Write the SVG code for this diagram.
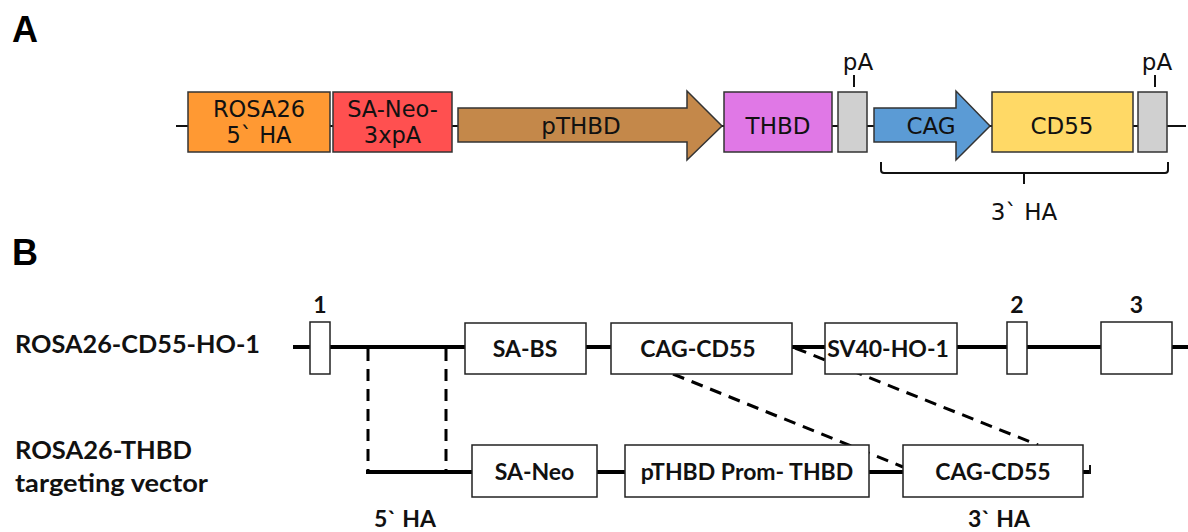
<svg xmlns="http://www.w3.org/2000/svg" width="1188" height="532" viewBox="0 0 1188 532">
<style>
.pl{font-family:"Liberation Sans",Arial,sans-serif;font-weight:bold;font-size:36px;fill:#000}
.ta{font-family:"DejaVu Sans",Verdana,sans-serif;font-size:23px;fill:#111;text-anchor:middle}
.t2{font-size:22.5px}
.tb{font-family:Lato,"Open Sans",sans-serif;font-weight:bold;font-size:23px;fill:#111}
.tr{font-size:25px}
.mid{text-anchor:middle}
.ba{stroke:#333;stroke-width:1.5}
.bb{fill:#fff;stroke:#222;stroke-width:1.5}
.la{stroke:#111;stroke-width:2;fill:none}
.lb{stroke:#000;stroke-width:4;fill:none}
.dash{stroke:#000;stroke-width:3;stroke-dasharray:12 8;fill:none}
</style>
<text class="pl" x="12" y="42">A</text>
<text class="pl" x="12" y="265">B</text>

<g id="connectors">
<line class="la" x1="176" y1="126" x2="1186" y2="126"/>
<line class="la" x1="854" y1="75" x2="854" y2="87"/>
<line class="la" x1="1155" y1="75" x2="1155" y2="87"/>
<path class="la" d="M881,162 L881,170 Q881,173 884,173 L1165,173 Q1168,173 1168,170 L1168,162 M1024,173 L1024,184"/>
<line class="lb" x1="293" y1="347" x2="1188" y2="347"/>
<line class="lb" x1="366" y1="472" x2="1090" y2="472"/>
<line class="la" x1="1090" y1="465" x2="1090" y2="474"/>
<line class="dash" x1="368" y1="349" x2="368" y2="470"/>
<line class="dash" x1="446" y1="349" x2="446" y2="470"/>
<line class="dash" x1="673" y1="374" x2="903" y2="467"/>
<line class="dash" x1="795" y1="348" x2="1038" y2="445"/>
</g>

<g id="nA1"><rect class="ba" x="188" y="92" width="142" height="60" fill="#FF9933"/><text class="ta t2" x="259" y="117">ROSA26</text><text class="ta t2" x="259" y="143">5` HA</text></g>
<g id="nA2"><rect class="ba" x="333" y="92" width="119" height="60" fill="#FF5050"/><text class="ta t2" x="392.5" y="117">SA-Neo-</text><text class="ta t2" x="392.5" y="143">3xpA</text></g>
<g id="nA3"><path class="ba" fill="#C4884A" d="M458,108 L687,108 L687,91 L722,126 L687,160 L687,142 L458,142 Z"/><text class="ta" x="581" y="134" font-size="24">pTHBD</text></g>
<g id="nA4"><rect class="ba" x="724" y="92" width="108" height="60" fill="#E078E6"/><text class="ta" x="778" y="134">THBD</text></g>
<g id="nA5"><rect class="ba" x="838" y="92" width="29" height="60" fill="#D0D0D0"/><text class="ta" x="858" y="70">pA</text></g>
<g id="nA6"><path class="ba" fill="#5B9BD5" d="M874,108 L956,108 L956,91 L990,126 L956,160 L956,142 L874,142 Z"/><text class="ta" x="931" y="134">CAG</text></g>
<g id="nA7"><rect class="ba" x="992" y="92" width="141" height="60" fill="#FFD966"/><text class="ta" x="1062" y="134">CD55</text></g>
<g id="nA8"><rect class="ba" x="1138" y="92" width="29" height="60" fill="#D0D0D0"/><text class="ta" x="1157" y="70">pA</text></g>
<g id="nA9"><text class="ta" x="1024" y="220">3` HA</text></g>

<g id="lblB1"><text class="tb tr" x="15" y="353" textLength="245" lengthAdjust="spacingAndGlyphs">ROSA26-CD55-HO-1</text></g>
<g id="lblB2"><text class="tb tr" x="15" y="459" textLength="177" lengthAdjust="spacingAndGlyphs">ROSA26-THBD</text><text class="tb tr" x="15" y="492" textLength="193" lengthAdjust="spacingAndGlyphs">targeting vector</text></g>

<g id="ex1"><rect class="bb" x="310" y="322" width="20" height="52"/><text class="tb mid" x="320" y="313">1</text></g>
<g id="nB1"><rect class="bb" x="465" y="323" width="121" height="51"/><text class="tb mid" x="525" y="357">SA-BS</text></g>
<g id="nB2"><rect class="bb" x="611" y="323" width="181" height="51"/><text class="tb mid" x="698" y="357">CAG-CD55</text></g>
<g id="nB3"><rect class="bb" x="825" y="323" width="132" height="51"/><text class="tb mid" x="888" y="357">SV40-HO-1</text></g>
<g id="ex2"><rect class="bb" x="1007" y="322" width="20" height="52"/><text class="tb mid" x="1017" y="313">2</text></g>
<g id="ex3"><rect class="bb" x="1101" y="322" width="71" height="52"/><text class="tb mid" x="1136.5" y="313">3</text></g>

<g id="nB4"><rect class="bb" x="472" y="445" width="125" height="52"/><text class="tb mid" x="534.5" y="480">SA-Neo</text></g>
<g id="nB5"><rect class="bb" x="625" y="445" width="244" height="52"/><text class="tb mid" x="747" y="480">pTHBD Prom- THBD</text></g>
<g id="nB6"><rect class="bb" x="903" y="445" width="180" height="52"/><text class="tb mid" x="993" y="480">CAG-CD55</text></g>
<g id="ha5"><text class="tb mid" x="405" y="527">5` HA</text></g>
<g id="ha3"><text class="tb mid" x="999" y="527">3` HA</text></g>
</svg>
